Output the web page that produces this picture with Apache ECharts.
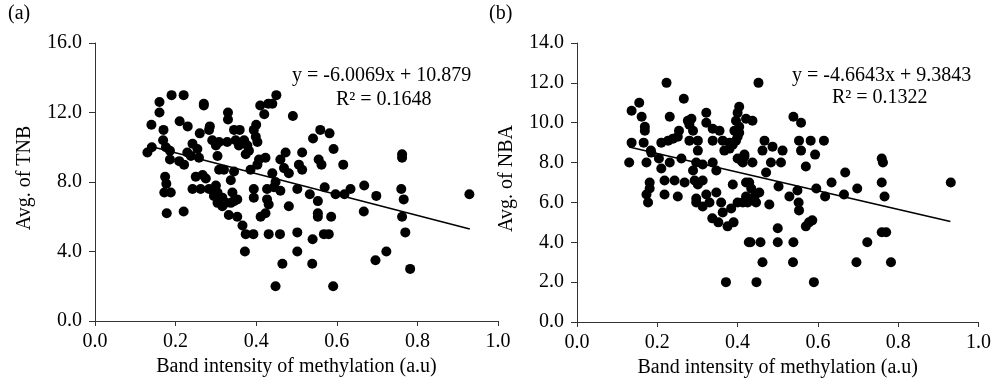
<!DOCTYPE html>
<html>
<head>
<meta charset="utf-8">
<script src="https://cdn.jsdelivr.net/npm/echarts@6/dist/echarts.min.js"></script>
<style>
  html, body { margin: 0; padding: 0; background: #fff; }
  #chart { width: 994px; height: 385px; }
</style>
</head>
<body>
<div id="chart"></div>
<script>
// (a) band intensity vs avg. TNB
const pointsTNB = [
  [0.19,13.0],[0.22,13.0],[0.16,12.6],[0.27,12.5],[0.27,12.4],[0.16,12.0],[0.33,12.0],[0.33,11.6],
  [0.41,12.4],[0.43,12.5],[0.42,11.9],[0.14,11.3],[0.21,11.5],[0.23,11.2],[0.17,11.0],[0.26,10.8],
  [0.285,11.2],[0.283,11.0],[0.345,11.0],[0.359,11.0],[0.40,11.3],[0.394,11.0],[0.169,10.4],[0.141,10.0],
  [0.13,9.7],[0.176,10.0],[0.186,9.8],[0.242,10.2],[0.254,9.9],[0.229,9.7],[0.291,10.4],[0.30,10.1],
  [0.308,10.3],[0.328,10.3],[0.349,10.4],[0.357,10.1],[0.37,10.4],[0.378,10.1],[0.399,10.6],[0.403,10.3],
  [0.186,9.3],[0.209,9.2],[0.221,9.0],[0.238,9.5],[0.258,9.4],[0.304,9.5],[0.308,8.7],[0.32,8.7],
  [0.345,8.6],[0.337,8.1],[0.382,9.8],[0.374,9.6],[0.386,8.7],[0.407,9.3],[0.423,9.4],[0.403,9.0],
  [0.174,8.3],[0.177,7.9],[0.172,7.4],[0.188,7.4],[0.25,8.3],[0.267,8.4],[0.275,8.2],[0.242,7.6],
  [0.262,7.6],[0.283,7.6],[0.30,7.8],[0.304,7.4],[0.295,7.2],[0.316,7.1],[0.341,7.4],[0.324,6.8],
  [0.345,6.9],[0.394,7.6],[0.394,7.1],[0.427,7.6],[0.427,7.0],
  [0.178,6.2],[0.22,6.3],[0.304,6.8],[0.337,6.8],[0.353,7.0],[0.316,6.6],[0.332,6.1],[0.353,6.0],
  [0.366,5.5],[0.374,5.0],[0.393,5.0],[0.372,4.0],[0.411,6.0],[0.423,6.2],[0.431,5.0],
  [0.45,13.0],[0.44,12.5],[0.491,11.8],[0.559,11.0],[0.582,10.8],[0.541,10.5],[0.592,9.9],[0.473,9.7],
  [0.514,9.7],[0.46,9.3],[0.469,8.8],[0.481,8.5],[0.506,9.0],[0.514,8.7],[0.555,9.3],[0.562,9.0],
  [0.616,9.0],[0.762,9.6],[0.762,9.4],[0.44,8.5],[0.448,8.0],[0.444,7.7],[0.46,7.5],[0.502,7.6],
  [0.533,7.3],[0.553,6.9],[0.57,7.7],[0.597,7.3],[0.619,7.3],[0.634,7.6],[0.668,7.8],[0.698,7.2],
  [0.76,7.6],[0.766,7.0],[0.929,7.3],[0.431,6.7],[0.481,6.6],
  [0.553,6.2],[0.553,6.0],[0.586,6.0],[0.667,6.3],[0.762,6.0],[0.459,5.0],[0.502,5.1],[0.54,4.7],
  [0.568,5.0],[0.58,5.0],[0.77,5.1],[0.502,4.0],[0.465,3.3],[0.539,3.3],[0.723,4.0],[0.696,3.5],
  [0.782,3.0],[0.448,2.0],[0.591,2.0]
];

// (b) band intensity vs avg. NBA
const pointsNBA = [
  [0.223,12.0],[0.266,11.2],[0.155,11.0],[0.136,10.6],[0.161,10.3],[0.231,10.3],[0.169,9.8],[0.169,9.6],
  [0.136,9.0],[0.166,9.0],[0.13,8.0],[0.173,8.0],[0.184,8.6],[0.185,8.5],[0.204,8.2],[0.21,7.7],
  [0.21,9.0],[0.227,9.1],[0.239,9.2],[0.251,9.3],[0.254,9.6],[0.231,8.0],[0.26,8.2],[0.276,10.1],
  [0.285,10.2],[0.28,9.9],[0.289,9.6],[0.28,9.1],[0.301,9.1],[0.301,8.6],[0.322,10.5],[0.322,10.0],
  [0.338,9.7],[0.355,9.6],[0.338,9.1],[0.363,9.1],[0.367,8.6],[0.38,8.7],[0.388,8.9],[0.396,9.1],
  [0.392,9.6],[0.396,10.1],[0.404,10.8],[0.40,10.5],[0.421,10.2],[0.297,8.0],[0.313,7.9],[0.338,8.0],
  [0.347,7.6],[0.40,8.2],[0.417,8.3],[0.413,8.0],[0.289,7.6],[0.218,7.1],[0.243,7.1],[0.268,7.0],
  [0.293,7.1],[0.301,6.9],[0.181,7.0],[0.388,6.9],[0.421,7.0],[0.181,6.7],[0.173,6.4],[0.218,6.4],
  [0.251,6.3],[0.297,6.2],[0.322,6.4],[0.347,6.5],
  [0.177,6.0],[0.297,6.0],[0.313,5.8],[0.33,6.0],[0.359,6.0],[0.363,5.5],[0.337,5.2],[0.352,5.0],
  [0.375,4.8],[0.39,5.0],[0.40,6.0],[0.413,6.0],[0.425,6.0],[0.428,4.0],[0.371,2.0],
  [0.38,9.0],[0.40,9.3],[0.409,8.1],[0.313,7.1],[0.421,6.3],[0.384,5.7],
  [0.452,12.0],[0.437,10.1],[0.404,9.8],[0.404,9.5],[0.539,10.3],[0.558,10.0],[0.553,9.1],[0.582,9.1],
  [0.615,9.1],[0.558,8.6],[0.593,8.4],[0.467,9.1],[0.462,8.6],[0.487,8.8],[0.512,8.6],[0.417,8.4],
  [0.437,8.0],[0.483,8.0],[0.508,8.0],[0.57,7.8],[0.471,7.5],[0.759,8.2],[0.762,8.0],[0.668,7.5],
  [0.634,7.0],[0.759,7.0],[0.931,7.0],[0.429,7.0],[0.434,6.7],[0.502,6.8],[0.549,6.6],[0.529,6.3],
  [0.596,6.7],[0.665,6.4],[0.698,6.7],[0.766,6.3],[0.454,6.5],[0.442,6.3],
  [0.446,6.0],[0.479,5.9],[0.552,6.0],[0.553,5.6],[0.618,6.3],[0.57,4.8],[0.578,5.0],[0.586,5.1],
  [0.50,4.7],[0.759,4.5],[0.77,4.5],[0.432,4.0],[0.457,4.0],[0.50,4.0],[0.539,4.0],[0.723,4.0],
  [0.462,3.0],[0.538,3.0],[0.696,3.0],[0.782,3.0],[0.447,2.0],[0.59,2.0]
];

// linear trendline end points (Excel fit shown on the chart)
const trendTNB = [[0.13, 10.098], [0.93, 5.293]];
const trendNBA = [[0.13, 8.778], [0.93, 5.047]];

const eqTNB = ["y = -6.0069x + 10.879", "R² = 0.1648"];
const eqNBA = ["y = -4.6643x + 9.3843", "R² = 0.1322"];

const FONT = "Liberation Serif";
const FS = 20;
const chart = echarts.init(document.getElementById("chart"));

const xAxisBase = (gridIndex) => ({
  type: "value",
  gridIndex: gridIndex,
  min: 0,
  max: 1,
  interval: 0.2,
  name: "Band intensity of methylation (a.u)",
  nameLocation: "middle",
  nameGap: 35,
  nameTextStyle: { fontFamily: FONT, fontSize: FS, color: "#000" },
  axisLine: { lineStyle: { color: "#333", width: 1 } },
  axisTick: { show: true, inside: false, length: 5, lineStyle: { color: "#333" } },
  axisLabel: {
    fontFamily: FONT, fontSize: FS, color: "#000", margin: 11,
    formatter: (v) => v.toFixed(1),
  },
  splitLine: { show: false },
});

const yAxisBase = (gridIndex, max, interval, name) => ({
  type: "value",
  gridIndex: gridIndex,
  min: 0,
  max: max,
  interval: interval,
  name: name,
  nameLocation: "middle",
  nameGap: 60,
  nameTextStyle: { fontFamily: FONT, fontSize: FS, color: "#000", padding: [0, 0, 0, 8] },
  axisLine: { show: true, lineStyle: { color: "#333", width: 1 } },
  axisTick: { show: true, inside: false, length: 6, lineStyle: { color: "#333" } },
  axisLabel: {
    fontFamily: FONT, fontSize: FS, color: "#000", margin: 13,
    formatter: (v) => v.toFixed(1),
  },
  splitLine: { show: false },
});

const scatter = (idx, data) => ({
  type: "scatter",
  xAxisIndex: idx,
  yAxisIndex: idx,
  data: data,
  symbolSize: 10,
  itemStyle: { color: "#000", opacity: 1 },
  z: 3,
});

const trend = (idx, data) => ({
  type: "line",
  xAxisIndex: idx,
  yAxisIndex: idx,
  data: data,
  showSymbol: false,
  lineStyle: { color: "#000", width: 1.6 },
  z: 4,
});

const eqText = (left, top, text) => ({
  type: "text",
  left: left,
  top: top,
  style: { text: text, fontFamily: FONT, fontSize: FS, fill: "#000" },
});

chart.setOption({
  animation: false,
  backgroundColor: "#fff",
  grid: [
    { left: 95, top: 43, width: 403, height: 278 },
    { left: 577, top: 43, width: 403, height: 279 },
  ],
  xAxis: [xAxisBase(0), xAxisBase(1)],
  yAxis: [
    yAxisBase(0, 16, 4, "Avg. of TNB"),
    yAxisBase(1, 14, 2, "Avg. of NBA"),
  ],
  series: [
    scatter(0, pointsTNB),
    trend(0, trendTNB),
    scatter(1, pointsNBA),
    trend(1, trendNBA),
  ],
  graphic: [
    { type: "text", left: 8, top: 4, style: { text: "(a)", fontFamily: FONT, fontSize: FS, fill: "#000" } },
    { type: "text", left: 489, top: 4, style: { text: "(b)", fontFamily: FONT, fontSize: FS, fill: "#000" } },
    eqText(292, 66, eqTNB[0]),
    eqText(336, 90, eqTNB[1]),
    eqText(792, 66, eqNBA[0]),
    eqText(832, 88, eqNBA[1]),
  ],
});
</script>
</body>
</html>
